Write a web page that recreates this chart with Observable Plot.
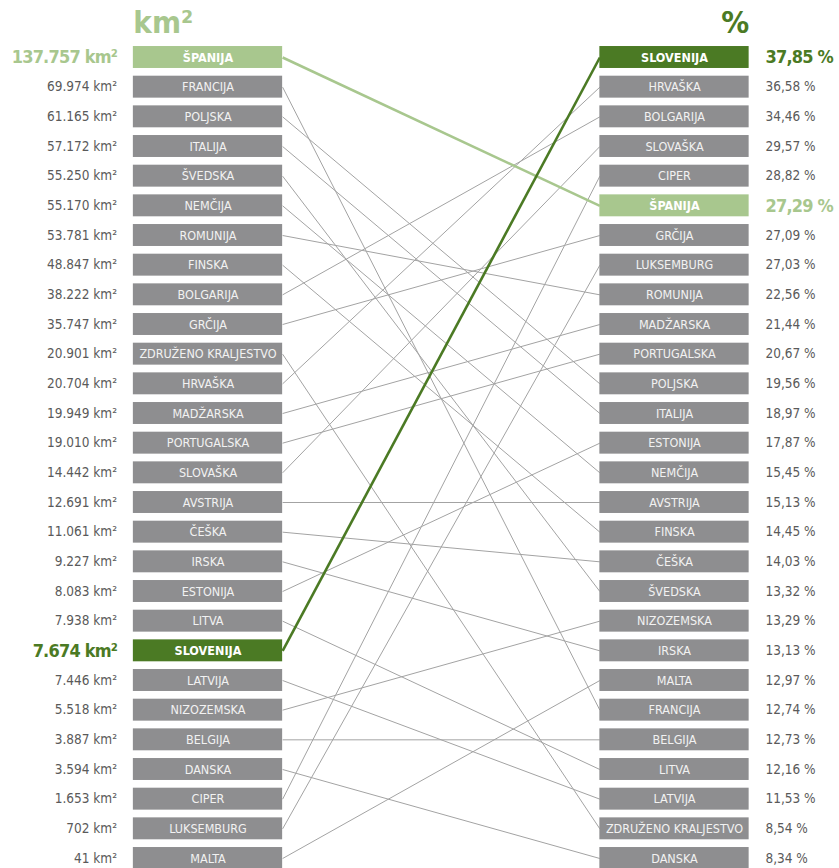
<!DOCTYPE html>
<html><head><meta charset="utf-8">
<script src="https://cdn.jsdelivr.net/npm/d3@7"></script>
<script src="https://cdn.jsdelivr.net/npm/@observablehq/plot@0.6"></script>
<style>
body{margin:0;background:#fff}
#chart svg{display:block}
.big text{letter-spacing:-0.8px}
</style>
</head><body><div id="chart"></div>
<script>
const areaCountries = ["ŠPANIJA","FRANCIJA","POLJSKA","ITALIJA","ŠVEDSKA","NEMČIJA","ROMUNIJA","FINSKA","BOLGARIJA","GRČIJA","ZDRUŽENO KRALJESTVO","HRVAŠKA","MADŽARSKA","PORTUGALSKA","SLOVAŠKA","AVSTRIJA","ČEŠKA","IRSKA","ESTONIJA","LITVA","SLOVENIJA","LATVIJA","NIZOZEMSKA","BELGIJA","DANSKA","CIPER","LUKSEMBURG","MALTA"];
const areaKm2 = [137757,69974,61165,57172,55250,55170,53781,48847,38222,35747,20901,20704,19949,19010,14442,12691,11061,9227,8083,7938,7674,7446,5518,3887,3594,1653,702,41];
const pctCountries = ["SLOVENIJA","HRVAŠKA","BOLGARIJA","SLOVAŠKA","CIPER","ŠPANIJA","GRČIJA","LUKSEMBURG","ROMUNIJA","MADŽARSKA","PORTUGALSKA","POLJSKA","ITALIJA","ESTONIJA","NEMČIJA","AVSTRIJA","FINSKA","ČEŠKA","ŠVEDSKA","NIZOZEMSKA","IRSKA","MALTA","FRANCIJA","BELGIJA","LITVA","LATVIJA","ZDRUŽENO KRALJESTVO","DANSKA"];
const pctValues = [37.85,36.58,34.46,29.57,28.82,27.29,27.09,27.03,22.56,21.44,20.67,19.56,18.97,17.87,15.45,15.13,14.45,14.03,13.32,13.29,13.13,12.97,12.74,12.73,12.16,11.53,8.54,8.34];
const headers = ["km²","%"];
const highlightLight = "ŠPANIJA";
const highlightDark = "SLOVENIJA";

const GRAY = "#8e8e90", LIGHT = "#a8c78e", DARK = "#4b7a24", LINE = "#a3a3a3", VAL = "#5a5a5a";
const colorOf = c => c === highlightDark ? DARK : c === highlightLight ? LIGHT : GRAY;
const FONT = "'DejaVu Sans Condensed','Liberation Sans Narrow','Roboto',sans-serif";

const fmtKm = v => d3.format(",")(v).replace(/,/g, ".") + " km²";
const fmtPct = v => v.toFixed(2).replace(".", ",") + " %";

const left = areaCountries.map((c, i) => ({country: c, rank: i, side: 0, label: fmtKm(areaKm2[i])}));
const right = pctCountries.map((c, i) => ({country: c, rank: i, side: 1, label: fmtPct(pctValues[i])}));
const boxes = left.concat(right);
const isHi = d => d.country === highlightDark || d.country === highlightLight;
const links = left.map(d => ({country: d.country, r0: d.rank, r1: pctCountries.indexOf(d.country)}))
  .sort((a, b) => (isHi(a) ? 1 : 0) - (isHi(b) ? 1 : 0));

const hw = 0.16;   // half box width in column units
const hh = 0.37;   // half box height in rank units
const labGap = 0.195;

const chart = Plot.plot({
  width: 839,
  height: 868,
  margin: 0,
  x: {type: "linear", domain: [0, 1], range: [207.5, 674], axis: null},
  y: {type: "linear", domain: [0, 27], range: [57, 858], axis: null},
  style: {fontFamily: FONT, background: "#fff"},
  marks: [
    Plot.link(links, {
      x1: () => hw, x2: () => 1 - hw, y1: "r0", y2: "r1",
      stroke: d => isHi(d) ? colorOf(d.country) : LINE,
      strokeWidth: d => isHi(d) ? 2.6 : 1
    }),
    Plot.rect(boxes, {
      x1: d => d.side - hw, x2: d => d.side + hw,
      y1: d => d.rank - hh, y2: d => d.rank + hh,
      fill: d => colorOf(d.country)
    }),
    Plot.text(boxes.filter(d => !isHi(d)), {
      x: "side", y: "rank", text: "country", fill: "#f2f2f2", fontSize: 12.5
    }),
    Plot.text(boxes.filter(isHi), {
      x: "side", y: "rank", text: "country", fill: "#ffffff", fontSize: 12.5, fontWeight: "bold"
    }),
    Plot.text(left.filter(d => !isHi(d)), {
      x: () => -labGap, y: "rank", text: "label", textAnchor: "end", fill: VAL, fontSize: 13.5
    }),
    Plot.text(right.filter(d => !isHi(d)), {
      x: () => 1 + labGap, y: "rank", text: "label", textAnchor: "start", fill: VAL, fontSize: 13.5
    }),
    Plot.text(left.filter(isHi), {
      x: () => -labGap, y: "rank", text: "label", textAnchor: "end",
      fill: d => colorOf(d.country), fontSize: 18, fontWeight: "bold", className: "big"
    }),
    Plot.text(right.filter(isHi), {
      x: () => 1 + labGap, y: "rank", text: "label", textAnchor: "start",
      fill: d => colorOf(d.country), fontSize: 18, fontWeight: "bold", className: "big"
    }),
    Plot.text([headers[0]], {
      x: () => -hw, y: () => -1.15, text: d => d, textAnchor: "start",
      fill: LIGHT, fontSize: 31, fontWeight: "bold"
    }),
    Plot.text([headers[1]], {
      x: () => 1 + hw, y: () => -1.15, text: d => d, textAnchor: "end",
      fill: DARK, fontSize: 31, fontWeight: "bold"
    })
  ]
});
document.getElementById("chart").appendChild(chart);
</script>
</body></html>
